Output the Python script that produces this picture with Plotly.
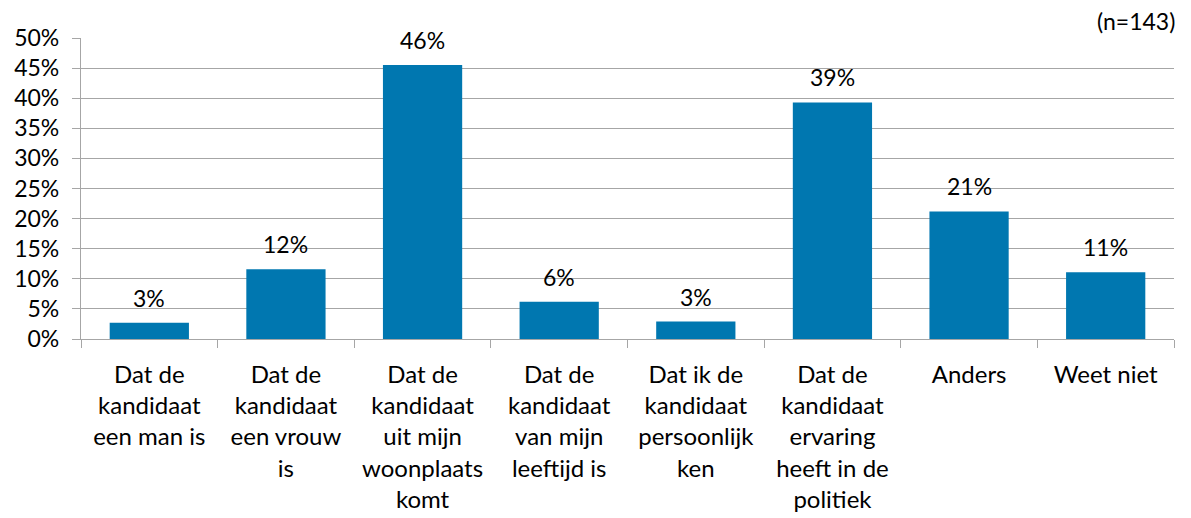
import plotly.graph_objects as go

categories = [
    "Dat de<br>kandidaat<br>een man is",
    "Dat de<br>kandidaat<br>een vrouw<br>is",
    "Dat de<br>kandidaat<br>uit mijn<br>woonplaats<br>komt",
    "Dat de<br>kandidaat<br>van mijn<br>leeftijd is",
    "Dat ik de<br>kandidaat<br>persoonlijk<br>ken",
    "Dat de<br>kandidaat<br>ervaring<br>heeft in de<br>politiek",
    "Anders",
    "Weet niet",
]
values = [2.7, 11.6, 45.5, 6.2, 2.9, 39.3, 21.2, 11.1]
labels = ["3%", "12%", "46%", "6%", "3%", "39%", "21%", "11%"]
y_ticks = [0, 5, 10, 15, 20, 25, 30, 35, 40, 45, 50]
y_tick_labels = [f"{t}%" for t in y_ticks]

FONT = "Lato, Noto Sans, sans-serif"
GRID = "#a6a6a6"
FS = 23

fig = go.Figure()
fig.add_trace(go.Bar(
    x=categories, y=values,
    marker=dict(color="#0077b0", line=dict(width=0)),
    hoverinfo="skip",
))

for c, v, lab in zip(categories, values, labels):
    fig.add_annotation(x=c, y=v, text=lab, showarrow=False,
                       yanchor="bottom", yshift=9,
                       font=dict(family=FONT, size=FS, color="#000000"))

fig.add_annotation(xref="paper", yref="paper", x=1.003, y=1.0, yshift=1,
                   xanchor="right", yanchor="bottom", text="(n=143)",
                   showarrow=False,
                   font=dict(family=FONT, size=FS, color="#000000"))

fig.update_layout(
    width=1191, height=518,
    margin=dict(l=73, r=25, t=30, b=187, autoexpand=False),
    paper_bgcolor="white", plot_bgcolor="white",
    bargap=0.42,
    showlegend=False,
    font=dict(family=FONT, size=FS, color="#000000"),
)
fig.update_yaxes(
    range=[0, 50], tickvals=y_ticks, ticktext=y_tick_labels,
    showgrid=True, gridcolor=GRID, gridwidth=1.3,
    showline=True, linecolor=GRID, linewidth=1.3,
    ticks="outside", ticklen=8, tickcolor=GRID, tickwidth=1.3,
    ticklabelstandoff=8, zeroline=False, automargin=False,
    tickfont=dict(family=FONT, size=FS, color="#000000"),
)
fig.update_xaxes(
    showline=True, linecolor=GRID, linewidth=1.3,
    ticks="outside", tickson="boundaries", ticklen=8, tickcolor=GRID, tickwidth=1.3,
    ticklabelstandoff=14, automargin=False,
    tickfont=dict(family=FONT, size=24, color="#000000"),
    tickangle=0,
)

fig.write_html("out.html")
